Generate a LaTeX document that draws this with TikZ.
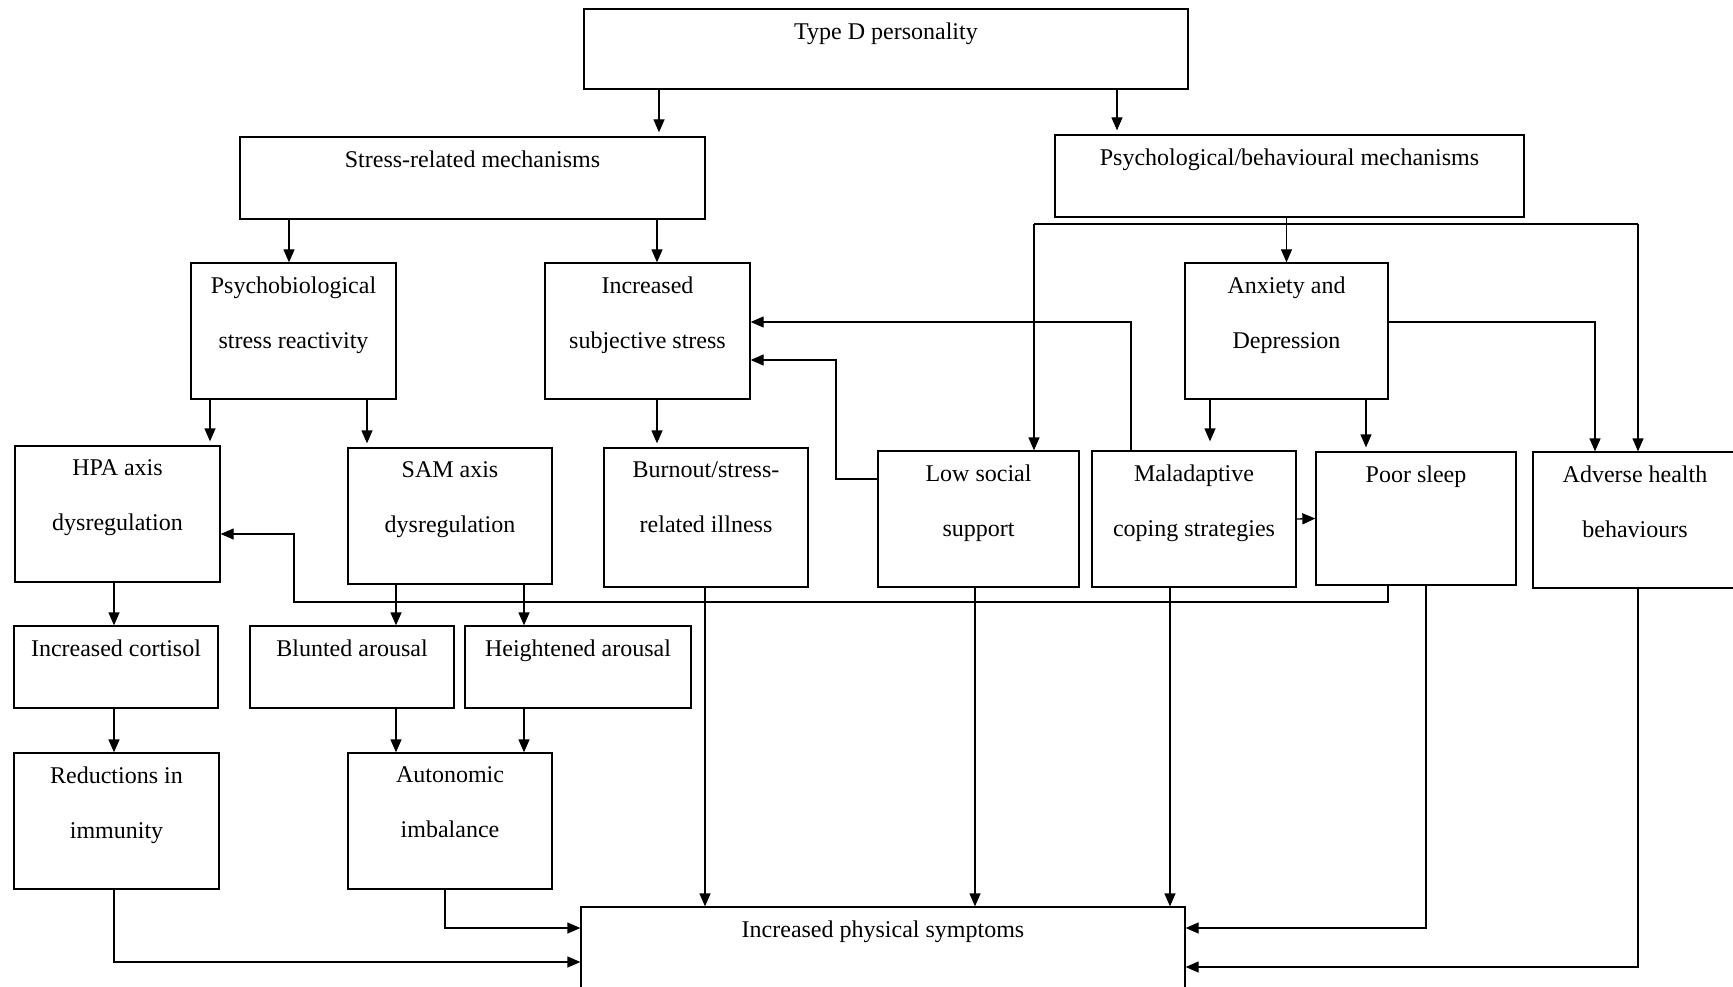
\documentclass[tikz,border=0pt]{standalone}
\usepackage{fontspec}
\setmainfont{Liberation Serif}
\usetikzlibrary{arrows.meta,fit}

\begin{document}
\begin{tikzpicture}[x=1pt,y=-1pt,
	box/.style={draw,line width=1.3pt,inner sep=0pt},
	txt/.style={anchor=north,yshift=-14pt,inner sep=0pt,align=center,font=\fontsize{24}{55}\selectfont},
	ln/.style={line width=1.3pt},
	arr/.style={ln,-{Triangle[length=13pt,width=11pt]}}]
	\useasboundingbox (0,0) rectangle (1733,987);

	%% boxes, top to bottom
	\node[box,fit={(584,9) (1188,89)},label={[txt]north:Type D personality}] (typeD) {};
	\node[box,fit={(240,137) (705,219)},label={[txt]north:Stress-related mechanisms}] (stress) {};
	\node[box,fit={(1055,135) (1524,217)},label={[txt]north:Psychological/behavioural mechanisms}] (psybeh) {};

	\node[box,fit={(191,263) (396,399)},label={[txt]north:{Psychobiological\\stress reactivity}}] (psybio) {};
	\node[box,fit={(545,263) (750,399)},label={[txt]north:{Increased\\subjective stress}}] (incsub) {};
	\node[box,fit={(1185,263) (1388,399)},label={[txt]north:{Anxiety and\\Depression}}] (anxdep) {};

	\node[box,fit={(15,446) (220,582)},label={[txt]north:{HPA axis\\dysregulation}}] (hpa) {};
	\node[box,fit={(348,448) (552,584)},label={[txt]north:{SAM axis\\dysregulation}}] (sam) {};
	\node[box,fit={(604,448) (808,587)},label={[txt]north:{Burnout/stress-\\related illness}}] (burnout) {};
	\node[box,fit={(878,451) (1079,587)},label={[txt]north:{Low social\\support}}] (lowsup) {};
	\node[box,fit={(1092,451) (1296,587)},label={[txt]north:{Maladaptive\\coping strategies}}] (malad) {};
	\node[box,fit={(1316,452) (1516,585)},label={[txt]north:Poor sleep}] (poorsl) {};
	\node[box,fit={(1533,452) (1737,588)},label={[txt]north:{Adverse health\\behaviours}}] (adverse) {};

	\node[box,fit={(14,626) (218,708)},label={[txt]north:Increased cortisol}] (inccort) {};
	\node[box,fit={(250,626) (454,708)},label={[txt]north:Blunted arousal}] (blunted) {};
	\node[box,fit={(465,626) (691,708)},label={[txt]north:Heightened arousal}] (height) {};

	\node[box,fit={(14,753) (219,889)},label={[txt]north:{Reductions in\\immunity}}] (reduct) {};
	\node[box,fit={(348,753) (552,889)},label={[txt]north:{Autonomic\\imbalance}}] (autonom) {};
	\node[box,fit={(581,907) (1185,1010)},label={[txt]north:Increased physical symptoms}] (incphys) {};

	%% columns and rows of the connectors
	\coordinate (xa) at (659,0);
	\coordinate (xb) at (1117,0);
	\coordinate (xc) at (289,0);
	\coordinate (xd) at (657,0);
	\coordinate (xf) at (1034,0);
	\coordinate (xg) at (1638,0);
	\coordinate (xh) at (1595,0);
	\coordinate (xi) at (1210,0);
	\coordinate (xj) at (1366,0);
	\coordinate (xk) at (1131,0);
	\coordinate (xl) at (836,0);
	\coordinate (xm) at (210,0);
	\coordinate (xn) at (367,0);
	\coordinate (xo) at (1388,0);
	\coordinate (xp) at (294,0);
	\coordinate (xq) at (114,0);
	\coordinate (xr) at (396,0);
	\coordinate (xs) at (524,0);
	\coordinate (xt) at (445,0);
	\coordinate (xu) at (705,0);
	\coordinate (xv) at (975,0);
	\coordinate (xw) at (1170,0);
	\coordinate (xx) at (1426,0);

	\coordinate (ya) at (0,224);
	\coordinate (yb) at (0,322);
	\coordinate (yc) at (0,360);
	\coordinate (yd) at (0,479);
	\coordinate (ye) at (0,534);
	\coordinate (yf) at (0,602);
	\coordinate (yg) at (0,928);
	\coordinate (yh) at (0,962);
	\coordinate (yi) at (0,967);

	%% top levels
	\draw[arr,shorten >=4pt] (xa |- typeD.south) -- (xa |- stress.north);
	\draw[arr,shorten >=4pt] (xb |- typeD.south) -- (xb |- psybeh.north);
	\draw[arr] (xc |- stress.south) -- (xc |- psybio.north);
	\draw[arr] (xd |- stress.south) -- (xd |- incsub.north);
	\draw[arr] (anxdep.north |- psybeh.south) -- (anxdep.north);
	\draw[ln] (xf |- ya) -- (xg |- ya);
	\draw[arr] (xf |- ya) -- (xf |- lowsup.north);
	\draw[arr] (xg |- ya) -- (xg |- adverse.north);

	%% psychological/behavioural side
	\draw[arr] (anxdep.east |- yb) -| (xh |- adverse.north);
	\draw[arr,shorten >=9pt] (xi |- anxdep.south) -- (xi |- malad.north);
	\draw[arr,shorten >=4pt] (xj |- anxdep.south) -- (xj |- poorsl.north);
	\draw[arr] (xk |- malad.north) |- (incsub.east |- yb);
	\draw[arr] (lowsup.west |- yd) -| (xl |- yc) -- (incsub.east |- yc);
	\draw[arr] (malad.east) -- (poorsl.west);

	%% stress side
	\draw[arr,shorten >=4pt] (xm |- psybio.south) -- (xm |- hpa.north);
	\draw[arr,shorten >=4pt] (xn |- psybio.south) -- (xn |- sam.north);
	\draw[arr,shorten >=4pt] (xd |- incsub.south) -- (xd |- burnout.north);
	\draw[arr] (xo |- poorsl.south) |- (xp |- yf) |- (hpa.east |- ye);
	\draw[arr] (xq |- hpa.south) -- (xq |- inccort.north);
	\draw[arr] (xr |- sam.south) -- (xr |- blunted.north);
	\draw[arr] (xs |- sam.south) -- (xs |- height.north);
	\draw[arr] (xq |- inccort.south) -- (xq |- reduct.north);
	\draw[arr] (xr |- blunted.south) -- (xr |- autonom.north);
	\draw[arr] (xs |- height.south) -- (xs |- autonom.north);

	%% into physical symptoms
	\draw[arr] (xq |- reduct.south) |- (incphys.west |- yh);
	\draw[arr] (xt |- autonom.south) |- (incphys.west |- yg);
	\draw[arr] (xu |- burnout.south) -- (xu |- incphys.north);
	\draw[arr] (xv |- lowsup.south) -- (xv |- incphys.north);
	\draw[arr] (xw |- malad.south) -- (xw |- incphys.north);
	\draw[arr] (xx |- poorsl.south) |- (incphys.east |- yg);
	\draw[arr] (xg |- adverse.south) |- (incphys.east |- yi);
\end{tikzpicture}
\end{document}
